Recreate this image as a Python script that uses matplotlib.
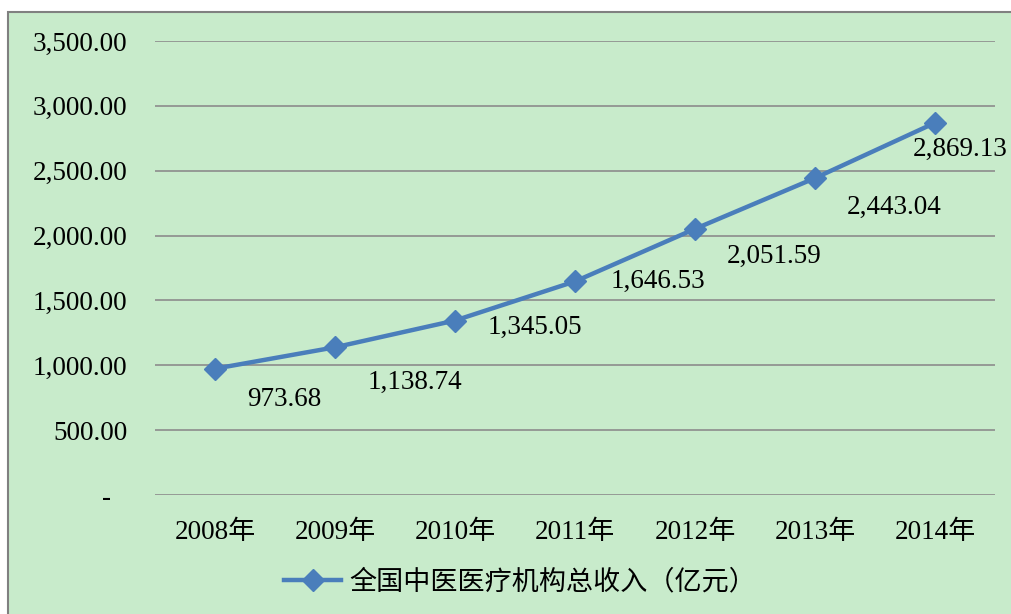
import matplotlib
matplotlib.use("Agg")
import matplotlib.pyplot as plt
from matplotlib.patches import Rectangle
from matplotlib.ticker import FuncFormatter
import matplotlib.transforms as mtransforms

years = ["2008年", "2009年", "2010年", "2011年", "2012年", "2013年", "2014年"]
income = [973.68, 1138.74, 1345.05, 1646.53, 2051.59, 2443.04, 2869.13]
series_name = "全国中医医疗机构总收入（亿元）"
label_offsets = [(69, -31), (80, -35), (80, -7), (83, 0), (79, -28), (79, -29), (25, -27)]

FONT = ["Liberation Serif", "Noto Sans CJK SC"]
plt.rcParams["font.family"] = FONT

W, H = 1011, 614
fig = plt.figure(figsize=(W / 100, H / 100), dpi=100)
fig.patch.set_facecolor("white")

bg = "#c8ebcb"
fig.patches.append(Rectangle((8 / W, -0.1), 1.2, 1 - 12 / H + 0.1, transform=fig.transFigure,
                             facecolor=bg, edgecolor="#808080", linewidth=1.5, zorder=-5))

ax = fig.add_axes([155 / W, 1 - 495 / H, 840 / W, (495 - 41) / H])
ax.set_facecolor("none")
ax.set_zorder(2)
for s in ax.spines.values():
    s.set_visible(False)

x = list(range(len(years)))
color = "#4a7ebb"
line, = ax.plot(x, income, color=color, linewidth=3.2, marker="D", markersize=11,
                label=series_name, zorder=3, clip_on=False)

ax.set_xlim(-0.5, len(years) - 0.5)
ax.set_ylim(0, 3500)
ax.set_yticks(range(0, 3501, 500))
ax.yaxis.set_major_formatter(FuncFormatter(lambda v, p: "-" if v == 0 else f"{v:,.2f}"))
ax.grid(axis="y", color="#8c8c8c", linewidth=1.2)
ax.set_axisbelow(True)
ax.tick_params(axis="both", length=0, labelsize=19.5, colors="black")
ax.tick_params(axis="y", pad=20)
ax.tick_params(axis="x", pad=18)
ax.set_xticks(x)
ax.set_xticklabels(years)

fig.canvas.draw()
for t in ax.get_yticklabels():
    if t.get_text() == "-":
        t.set_transform(t.get_transform() + mtransforms.ScaledTranslation(-16 / 100, 0, fig.dpi_scale_trans))

for xi, v, (dx, dy) in zip(x, income, label_offsets):
    ax.annotate(f"{v:,.2f}", (xi, v), xytext=(dx * 0.72, dy * 0.72), textcoords="offset points",
                ha="center", va="center", fontsize=19.5, color="black", annotation_clip=False)

leg = fig.legend(handles=[line], loc="center", bbox_to_anchor=(520 / W, 1 - 582 / H),
                 frameon=False, handlelength=2.1, handletextpad=0.3,
                 prop={"family": ["Noto Sans CJK SC"], "size": 19.5})

fig.savefig("out.png", dpi=100, facecolor=fig.get_facecolor())
